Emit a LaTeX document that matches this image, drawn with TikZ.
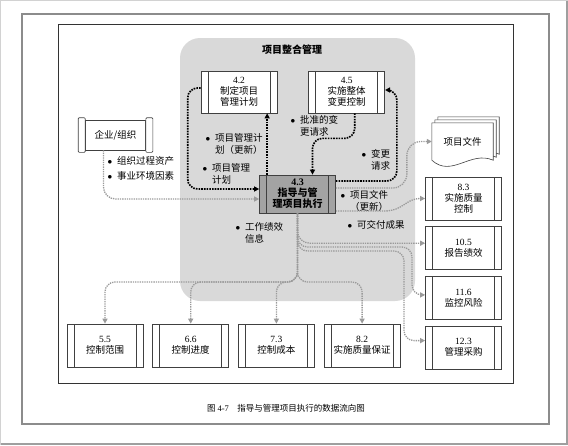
\documentclass[tikz,border=0pt]{standalone}
\usepackage{fontspec}
\setmainfont{Liberation Serif}
\newfontfamily\cjk{Noto Sans CJK SC}
\usetikzlibrary{arrows.meta,positioning,calc,backgrounds}
\definecolor{regiongray}{HTML}{D9D9D9}
\definecolor{execgray}{HTML}{A3A3A3}
\definecolor{flowgray}{HTML}{9A9A9A}
\definecolor{boxline}{HTML}{404040}
\definecolor{framegray}{HTML}{8C8C8C}
\newcommand\pnum[1]{{\rmfamily #1}}
\newcommand\boxfont{\cjk\fontsize{9.5}{11}\selectfont}
\newcommand\lblfont{\cjk\fontsize{9.5}{12}\selectfont}
\newcommand\blt{\llap{$\bullet$\hspace{5pt}}}
\tikzset{
  procbox/.style={draw=boxline,fill=white,line width=0.7pt,minimum width=76pt,minimum height=43pt,inner sep=1pt,align=center,font=\boxfont,
    path picture={\draw[boxline,line width=0.6pt]
      ([xshift=7pt]path picture bounding box.north west) -- ([xshift=7pt]path picture bounding box.south west)
      ([xshift=-7pt]path picture bounding box.north east) -- ([xshift=-7pt]path picture bounding box.south east);}},
  execbox/.style={procbox,fill=execgray,minimum height=38pt,font=\boxfont\fontsize{10}{11}\selectfont\bfseries},
  orgbox/.style={draw=boxline,fill=white,line width=0.7pt,minimum width=60pt,minimum height=30pt,font=\boxfont},
  region/.style={fill=regiongray,rounded corners=20pt,minimum width=235pt,minimum height=263pt,inner sep=0pt},
  lbl/.style={font=\lblfont,align=left,inner sep=0pt,anchor=north west},
  blackflow/.style={-{Triangle[length=5pt,width=5pt]},line width=1.7pt,dash pattern=on 1.6pt off 1.1pt,draw=black},
  grayflow/.style={-{Triangle[length=5pt,width=5pt]},line width=1.3pt,dash pattern=on 1.3pt off 1pt,draw=flowgray}
}
\begin{document}
\begin{tikzpicture}[x=1pt,y=-1pt]
  \useasboundingbox (0,0) rectangle (568,445);
  % page frames
  \draw[gray!35,line width=1pt] (0.5,0.5) rectangle (567.5,444.5);
  \draw[gray!75,line width=1.2pt] (0.5,444) -- (567,444) -- (567,0.5);
  \draw[framegray,line width=1.2pt] (22,14) rectangle (549,424);
  \draw[black!80,line width=0.8pt] (58,24) rectangle (513,383);
  \node[font=\cjk\fontsize{8.5}{10}\selectfont] (caption) at (286,408) {图 \pnum{4-7}\quad 指导与管理项目执行的数据流向图};
  % integration area
  \node[region] (integ) at (297.5,169.5) {};
  \node[font=\cjk\fontsize{10}{12}\selectfont\bfseries] (title) at (292,50) {项目整合管理};
  \node[procbox,minimum height=42pt] (t42) at (239,92) {\pnum{4.2}\\制定项目\\管理计划};
  \node[procbox,minimum height=42pt,right=31pt of t42] (t45) {\pnum{4.5}\\实施整体\\变更控制};
  \node[execbox] (t43) at (297.5,194) {\pnum{4.3}\\指导与管\\理项目执行};
  % inputs
  \node[orgbox] (org) at (115.5,135) {企业/组织};
  \draw[boxline,fill=white,line width=0.7pt,rounded corners=1pt] ($(org.north west)+(-7,-2)$) rectangle ($(org.south west)+(0,2)$);
  \draw[boxline,fill=white,line width=0.7pt,rounded corners=1pt] ($(org.north east)+(0,-2)$) rectangle ($(org.south east)+(7,2)$);
  % outputs
  \node[minimum width=61pt,minimum height=37pt,font=\boxfont] (docs) at (462.5,141.5) {项目文件};
  \begin{scope}[on background layer]
    \foreach \d in {6,3,0}
      \draw[boxline,fill=white,line width=0.6pt] ($(docs.north west)+(\d,-\d)$) -- ($(docs.north east)+(\d,-\d)$) -- ($(docs.south east)+(\d,-\d)$)
        .. controls ($(docs.south east)+(\d-23,-\d-10)$) and ($(docs.south west)+(\d+20,18-\d)$) .. ($(docs.south west)+(\d,-\d)$) -- cycle;
  \end{scope}
  \node[procbox] (t83) at (463.5,198.5) {\pnum{8.3}\\实施质量\\控制};
  \node[procbox,below=6pt of t83] (t105) {\pnum{10.5}\\报告绩效};
  \node[procbox,below=6pt of t105] (t116) {\pnum{11.6}\\监控风险};
  \node[procbox,below=6pt of t116] (t123) {\pnum{12.3}\\管理采购};
  \node[procbox] (t55) at (105,345.5) {\pnum{5.5}\\控制范围};
  \node[procbox,right=9pt of t55] (t66) {\pnum{6.6}\\控制进度};
  \node[procbox,right=9pt of t66] (t73) {\pnum{7.3}\\控制成本};
  \node[procbox,right=9pt of t73] (t82) {\pnum{8.2}\\实施质量保证};
  % flow labels
  \node[lbl] (lbla) at (117,156) {\blt 组织过程资产};
  \node[lbl] (lblb) at (117,171) {\blt 事业环境因素};
  \node[lbl] (lblc) at (215,133) {\blt 项目管理计\\划（更新）};
  \node[lbl] (lbld) at (212,163) {\blt 项目管理\\计划};
  \node[lbl] (lble) at (300,115) {\blt 批准的变\\更请求};
  \node[lbl] (lblf) at (371,149) {\blt 变更\\请求};
  \node[lbl] (lblg) at (350,190) {\blt 项目文件\\（更新）};
  \node[lbl] (lblh) at (357,220) {\blt 可交付成果};
  \node[lbl] (lbli) at (245,222) {\blt 工作绩效\\信息};
  % bends
  \coordinate (riskbend) at (412,247);
  \coordinate (procbend) at (404,251);
  \coordinate (lowbus) at (0,282);
  % connectors
  \draw[grayflow,rounded corners=12pt] ([xshift=-12pt]org.south) |- ([yshift=-5pt]t43.west);
  \draw[blackflow,rounded corners=10pt] ([yshift=4pt]t42.west) -- ++(-13,0) |- ([yshift=5pt]t43.west);
  \draw[blackflow] ([xshift=8pt]t43.north west) -- ([xshift=8pt]t43.north west |- t42.south);
  \draw[blackflow,rounded corners=10pt] ([xshift=8pt]t45.south) -- ++(0,25) -| ([xshift=15pt]t43.north);
  \draw[blackflow,rounded corners=10pt] ([yshift=13pt]t43.east) -- ++(61,0) |- ([yshift=2pt]t45.east);
  \draw[grayflow,rounded corners=14pt] ([yshift=6pt]t43.east) -- ++(71,0) |- (docs.west);
  \draw[grayflow] ([yshift=-17pt]t43.east) -- ++(48,0) .. controls +(20,0) and +(-20,0) .. (t83.west);
  \draw[grayflow,rounded corners=12pt] (t43.south) |- ([yshift=5pt]t105.west);
  \draw[grayflow,rounded corners=10pt] (t43.south) |- (riskbend) |- ([yshift=3pt]t116.west);
  \draw[grayflow,rounded corners=10pt] (t43.south) |- (procbend) |- ([yshift=7pt]t123.west);
  \foreach \t in {t55,t66,t73,t82}
    \draw[grayflow,rounded corners=10pt] (t43.south) |- (\t.north |- lowbus) -- (\t.north);
\end{tikzpicture}
\end{document}
